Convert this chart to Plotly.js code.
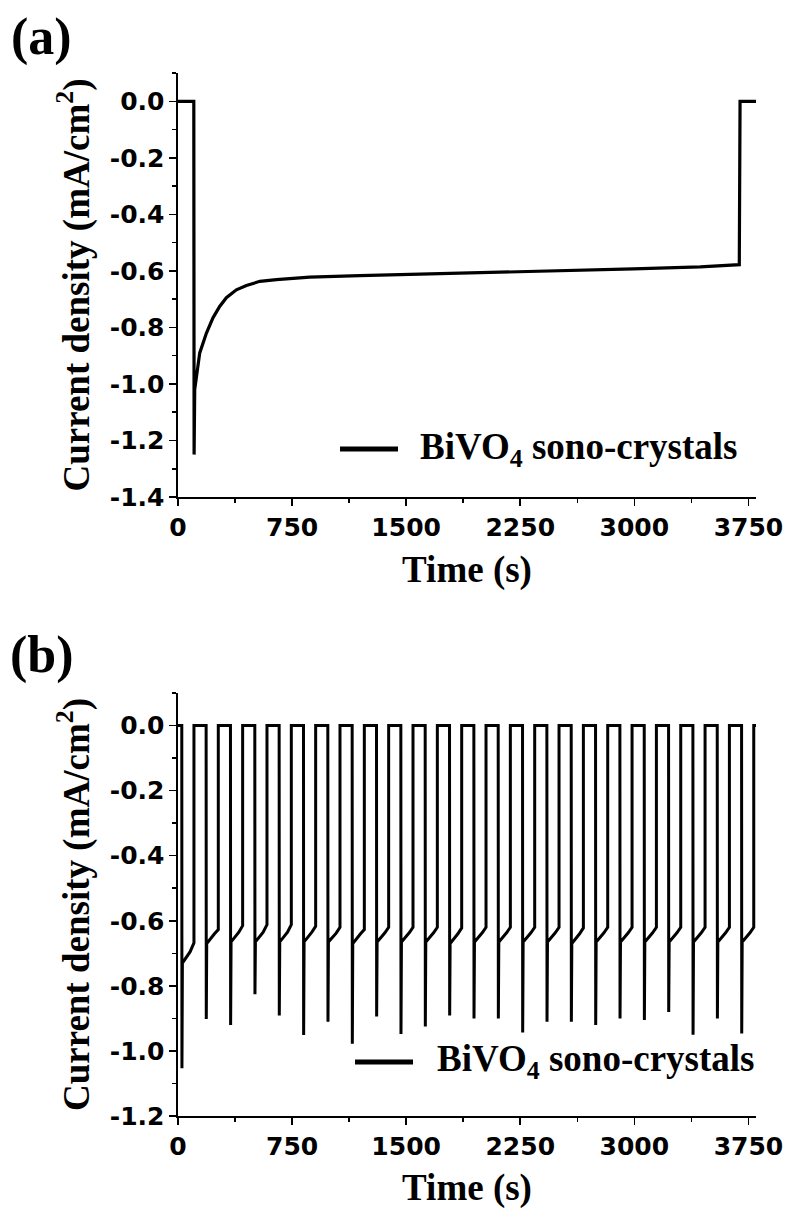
<!DOCTYPE html>
<html>
<head>
<meta charset="utf-8">
<script src="https://cdn.plot.ly/plotly-3.0.1.min.js"></script>
<style>html,body{margin:0;padding:0;background:#fff;}#chart{width:790px;height:1209px;}</style>
</head>
<body>
<div id="chart"></div>
<script>
// ---------- Panel (a): chronoamperometry, light on continuously ----------
const timeA = [0, 104, 106, 110, 143, 187, 230, 274, 318, 384, 450, 538, 647, 866, 1195, 1524, 1853, 2116, 2555, 2994, 3433, 3690, 3695, 3800];
const currentA = [0, 0, -1.25, -1.02, -0.89, -0.82, -0.766, -0.726, -0.695, -0.667, -0.652, -0.637, -0.631, -0.622, -0.617, -0.613, -0.608, -0.605, -0.601, -0.593, -0.586, -0.578, 0, 0];

// ---------- Panel (b): chopped light, one entry per light-on pulse ----------
const pulseOn  = [25, 185, 345, 505, 665, 825, 985, 1145, 1305, 1465, 1625, 1785, 1945, 2105, 2265, 2425, 2585, 2745, 2905, 3065, 3225, 3385, 3545, 3705];
const pulseOff = [105, 265, 425, 585, 745, 905, 1065, 1225, 1385, 1545, 1705, 1865, 2025, 2185, 2345, 2505, 2665, 2825, 2985, 3145, 3305, 3465, 3625, 3785];
const spikeMin = [-1.053, -0.902, -0.92, -0.826, -0.891, -0.951, -0.91, -0.978, -0.894, -0.948, -0.925, -0.891, -0.90, -0.90, -0.943, -0.91, -0.91, -0.92, -0.90, -0.905, -0.88, -0.95, -0.90, -0.946];
const plateauStart = [-0.73, -0.67, -0.665, -0.665, -0.665, -0.665, -0.665, -0.67, -0.665, -0.665, -0.665, -0.67, -0.665, -0.665, -0.665, -0.665, -0.67, -0.665, -0.665, -0.665, -0.665, -0.665, -0.665, -0.665];
const plateauMid   = [-0.695, -0.64, -0.635, -0.635, -0.635, -0.635, -0.638, -0.64, -0.637, -0.637, -0.637, -0.64, -0.637, -0.637, -0.637, -0.637, -0.64, -0.637, -0.637, -0.637, -0.637, -0.637, -0.637, -0.637];
const plateauEnd   = [-0.668, -0.627, -0.615, -0.612, -0.612, -0.617, -0.62, -0.627, -0.62, -0.62, -0.62, -0.622, -0.62, -0.62, -0.62, -0.62, -0.622, -0.62, -0.62, -0.62, -0.62, -0.62, -0.62, -0.62];
const timeEndB = 3800;

// ---------- Axis ticks ----------
const xTickVals = [0, 750, 1500, 2250, 3000, 3750];
const xTickText = ['0', '750', '1500', '2250', '3000', '3750'];
const yTickValsA = [0, -0.2, -0.4, -0.6, -0.8, -1.0, -1.2, -1.4];
const yTickTextA = ['0.0', '-0.2', '-0.4', '-0.6', '-0.8', '-1.0', '-1.2', '-1.4'];
const yTickValsB = [0, -0.2, -0.4, -0.6, -0.8, -1.0, -1.2];
const yTickTextB = ['0.0', '-0.2', '-0.4', '-0.6', '-0.8', '-1.0', '-1.2'];
const seriesName = 'BiVO<sub>4</sub> sono-crystals';

// build panel (b) trace from the per-pulse readings
const timeB = [0];
const currentB = [0];
for (let i = 0; i < pulseOn.length; i++) {
  timeB.push(pulseOn[i], pulseOn[i] + 1, pulseOn[i] + 4, pulseOn[i] + 55, pulseOff[i] - 2, pulseOff[i], pulseOff[i]);
  currentB.push(0, spikeMin[i], plateauStart[i], plateauMid[i], plateauEnd[i], plateauEnd[i], 0);
}
timeB.push(timeEndB);
currentB.push(0);

const black = '#000';
const tickFont = {family: 'DejaVu Sans, Arial, sans-serif', size: 25, weight: 'bold', color: black};
const titleFont = {family: 'Liberation Serif, Times New Roman, serif', size: 37, weight: 'bold', color: black};

function xAxis(anchor) {
  return {
    domain: [0.2253, 0.957], anchor: anchor, range: [0, 3800],
    tickmode: 'array', tickvals: xTickVals, ticktext: xTickText,
    ticks: 'outside', ticklen: 7, tickwidth: 1.5, tickcolor: black,
    minor: {tickmode: 'linear', tick0: 0, dtick: 375, ticks: 'outside', ticklen: 4, tickwidth: 1.5, tickcolor: black},
    showline: true, linewidth: 1.5, linecolor: black, showgrid: false, zeroline: false,
    tickfont: tickFont,
    title: {text: 'Time (s)', font: titleFont, standoff: 15}
  };
}
function yAxis(domain, anchor, range, vals, text) {
  return {
    domain: domain, anchor: anchor, range: range,
    tickmode: 'array', tickvals: vals, ticktext: text,
    ticks: 'outside', ticklen: 7, tickwidth: 1.5, tickcolor: black,
    minor: {tickmode: 'linear', tick0: 0, dtick: 0.1, ticks: 'outside', ticklen: 4, tickwidth: 1.5, tickcolor: black},
    showline: true, linewidth: 1.5, linecolor: black, showgrid: false, zeroline: false,
    tickfont: tickFont,
    title: {text: 'Current density (mA/cm<sup>2</sup>)', font: titleFont, standoff: 9}
  };
}

const traces = [
  {x: timeA, y: currentA, xaxis: 'x', yaxis: 'y', type: 'scatter', mode: 'lines', name: seriesName,
   line: {color: black, width: 3.2}, showlegend: false},
  {x: timeB, y: currentB, xaxis: 'x2', yaxis: 'y2', type: 'scatter', mode: 'lines', name: seriesName,
   line: {color: black, width: 3}, showlegend: false}
];

const layout = {
  width: 790, height: 1209,
  margin: {l: 0, r: 0, t: 0, b: 0},
  paper_bgcolor: '#fff', plot_bgcolor: '#fff',
  showlegend: false,
  xaxis: xAxis('y'),
  yaxis: yAxis([0.5889, 0.9396], 'x', [-1.4, 0.1], yTickValsA, yTickTextA),
  xaxis2: xAxis('y2'),
  yaxis2: yAxis([0.0769, 0.4268], 'x2', [-1.2, 0.1], yTickValsB, yTickTextB),
  shapes: [
    {type: 'line', xref: 'paper', yref: 'paper', x0: 0.4304, x1: 0.5038, y0: 0.6286, y1: 0.6286, line: {color: black, width: 5}},
    {type: 'line', xref: 'paper', yref: 'paper', x0: 0.4494, x1: 0.5228, y0: 0.1216, y1: 0.1216, line: {color: black, width: 5}}
  ],
  annotations: [
    {text: '(a)', xref: 'paper', yref: 'paper', x: 0.053, y: 0.9694, xanchor: 'center', yanchor: 'middle', showarrow: false,
     font: {family: 'Liberation Serif, Times New Roman, serif', size: 52, weight: 'bold', color: black}},
    {text: '(b)', xref: 'paper', yref: 'paper', x: 0.053, y: 0.4582, xanchor: 'center', yanchor: 'middle', showarrow: false,
     font: {family: 'Liberation Serif, Times New Roman, serif', size: 52, weight: 'bold', color: black}},
    {text: seriesName, xref: 'paper', yref: 'paper', x: 0.5291, y: 0.6286, xanchor: 'left', yanchor: 'middle', showarrow: false, font: titleFont},
    {text: seriesName, xref: 'paper', yref: 'paper', x: 0.5506, y: 0.1216, xanchor: 'left', yanchor: 'middle', showarrow: false, font: titleFont}
  ]
};

Plotly.newPlot('chart', traces, layout, {staticPlot: true, displayModeBar: false});
</script>
</body>
</html>
